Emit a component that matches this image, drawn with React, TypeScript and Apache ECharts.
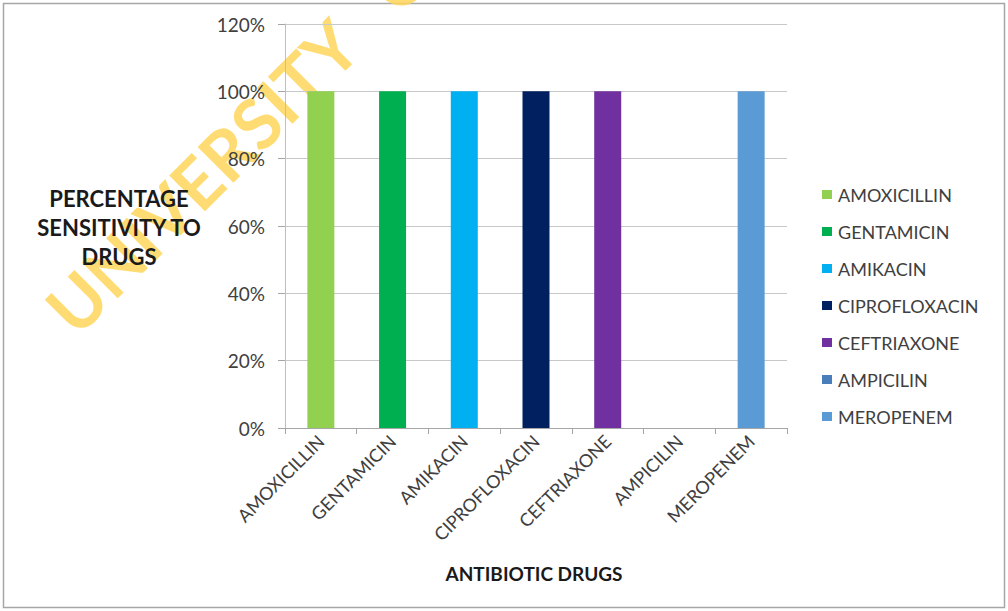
import React, { useEffect, useRef } from "react";
import * as echarts from "echarts";

// Antibiotic sensitivity (fraction of isolates sensitive)
const drugs = [
  "AMOXICILLIN",
  "GENTAMICIN",
  "AMIKACIN",
  "CIPROFLOXACIN",
  "CEFTRIAXONE",
  "AMPICILIN",
  "MEROPENEM",
];
const sensitivity = [1.0, 1.0, 1.0, 1.0, 1.0, 0, 1.0];
const drugColors = [
  "#92D050",
  "#00B050",
  "#00B0F0",
  "#002060",
  "#7030A0",
  "#4A7EBB",
  "#5B9BD5",
];
const yTicks = { min: 0, max: 1.2, interval: 0.2 };

const FONT = "Lato, 'Open Sans', sans-serif";

export default function App() {
  const ref = useRef<HTMLDivElement>(null);

  useEffect(() => {
    if (!ref.current) return;
    const chart = echarts.init(ref.current, undefined, { renderer: "svg" });

    // one series per drug so each gets its own legend entry; overlapping slots
    const series = drugs.map((name, i) => ({
      name,
      type: "bar",
      barWidth: 27,
      barGap: "-100%",
      itemStyle: { color: drugColors[i] },
      data: drugs.map((_, j) => (j === i ? sensitivity[i] : null)),
      z: 3,
    }));

    chart.setOption({
      animation: false,
      backgroundColor: "#ffffff",
      textStyle: { fontFamily: FONT },
      grid: { left: 285, right: 221, top: 24, bottom: 183 },
      legend: {
        orient: "vertical",
        left: 817,
        top: 180,
        itemWidth: 10,
        itemHeight: 9,
        itemGap: 18,
        icon: "rect",
        textStyle: {
          fontSize: 18,
          lineHeight: 19,
          color: "#404040",
          fontFamily: FONT,
          padding: [0, 0, 0, 1],
        },
        data: drugs,
      },
      xAxis: {
        type: "category",
        data: drugs,
        axisLine: { show: true, lineStyle: { color: "#A6A6A6" } },
        axisTick: { show: true, length: 6, lineStyle: { color: "#A6A6A6" } },
        axisLabel: {
          rotate: 45,
          interval: 0,
          margin: 10,
          fontSize: 18,
          color: "#404040",
          fontFamily: FONT,
        },
      },
      yAxis: {
        type: "value",
        min: yTicks.min,
        max: yTicks.max,
        interval: yTicks.interval,
        axisLine: { show: true, lineStyle: { color: "#BFBFBF" } },
        axisTick: { show: true, length: 7, lineStyle: { color: "#A6A6A6" } },
        splitLine: { show: true, lineStyle: { color: "#C8C8C8" } },
        axisLabel: {
          margin: 20,
          fontSize: 19,
          color: "#404040",
          fontFamily: FONT,
          formatter: (v: number) => `${Math.round(v * 100)}%`,
        },
      },
      graphic: [
        {
          type: "rect",
          z: -10,
          shape: { x: 3.5, y: 3.5, width: 1001, height: 604 },
          style: { fill: "none", stroke: "#A6A6A6", lineWidth: 1.5 },
        },
        {
          type: "text",
          z: -5,
          x: 58,
          y: 320,
          rotation: Math.PI / 4,
          style: {
            text: "UNIVERSITY   OF",
            fill: "rgba(255, 214, 90, 0.85)",
            font: `bold 70px ${FONT}`,
            textAlign: "left",
            textVerticalAlign: "middle",
          },
        },
        {
          type: "text",
          z: 10,
          x: 119,
          y: 227,
          style: {
            text: "PERCENTAGE\nSENSITIVITY TO\nDRUGS",
            fill: "#1A1A1A",
            font: `bold 22px ${FONT}`,
            lineHeight: 29,
            textAlign: "center",
            textVerticalAlign: "middle",
          },
        },
        {
          type: "text",
          z: 10,
          x: 534,
          y: 573,
          style: {
            text: "ANTIBIOTIC DRUGS",
            fill: "#1A1A1A",
            font: `bold 19px ${FONT}`,
            textAlign: "center",
            textVerticalAlign: "middle",
          },
        },
      ],
      series,
    });

    return () => chart.dispose();
  }, []);

  return (
    <div
      ref={ref}
      style={{ position: "fixed", left: 0, top: 0, width: 1008, height: 611 }}
    />
  );
}
